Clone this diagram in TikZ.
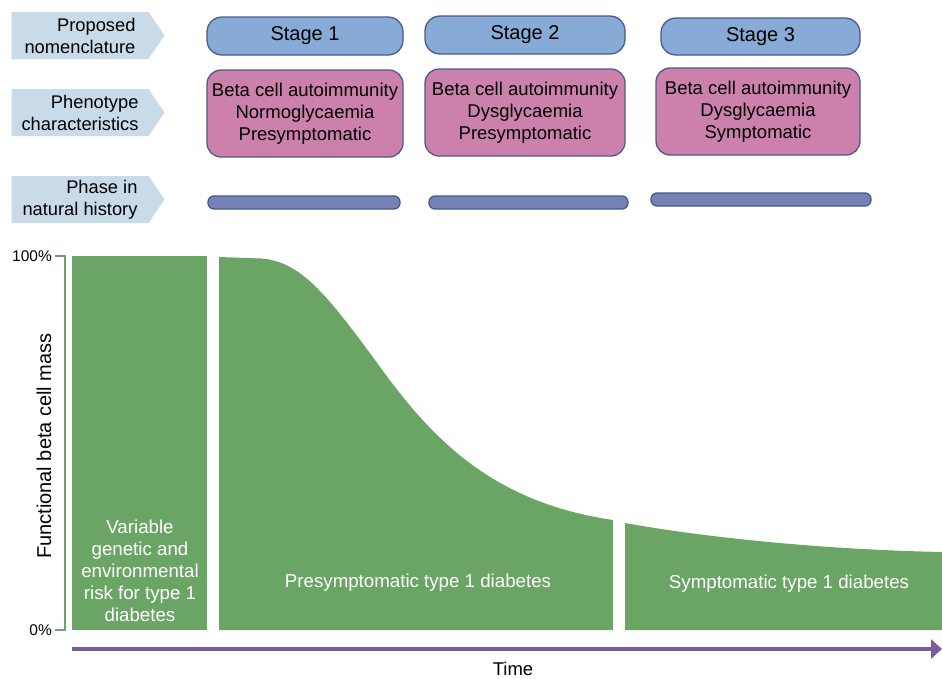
\documentclass[tikz,border=0pt]{standalone}
\usepackage{fontspec}
\setmainfont{Liberation Sans}
\usetikzlibrary{shapes.symbols}
\usetikzlibrary{arrows.meta}

\definecolor{chevblue}{HTML}{C9DAE8}
\definecolor{stageblue}{HTML}{88AAD6}
\definecolor{boxedge}{HTML}{4A5A8A}
\definecolor{phenopink}{HTML}{CC81AD}
\definecolor{phasebar}{HTML}{7482B8}
\definecolor{massgreen}{HTML}{6BA566}
\definecolor{timepurple}{HTML}{7A5C9E}

\begin{document}
\begin{tikzpicture}[
        x=1pt, y=-1pt,
        rowlabel/.style={shape=signal, signal to=east, signal pointer angle=111,
                         fill=chevblue, minimum width=153pt, minimum height=47pt,
                         inner sep=0pt, align=right, font=\fontsize{18.3}{22}\selectfont},
        stagebox/.style={draw=boxedge, line width=1.3pt, fill=stageblue,
                         rounded corners=15pt, inner sep=0pt,
                         font=\fontsize{20}{24}\selectfont},
        phenobox/.style={draw=boxedge, line width=1.3pt, fill=phenopink,
                         rounded corners=14pt, inner sep=0pt, align=center,
                         font=\fontsize{18.5}{22}\selectfont},
        phasebox/.style={draw=boxedge, line width=1.3pt, fill=phasebar,
                         rounded corners=6pt, inner sep=0pt},
        areatext/.style={text=white, align=center, font=\fontsize{18.7}{22}\selectfont},
        ticktext/.style={anchor=east, inner sep=1pt, font=\fontsize{15.5}{18}\selectfont},
    ]
    \useasboundingbox (0,0) rectangle (942,678);

    % row labels
    \node[rowlabel] (nomen) at (80,35.5) {Proposed\\nomenclature};
    \node[rowlabel] (pheno) at (80,112.5) {Phenotype\\characteristics};
    \node[rowlabel] (phase) at (80,199.5) {Phase in\\natural history};

    % stages
    \node[stagebox, minimum width=196pt, minimum height=38pt] (stage1) at (305,36) {Stage 1};
    \node[stagebox, minimum width=200pt, minimum height=38pt] (stage2) at (525,35) {Stage 2};
    \node[stagebox, minimum width=199pt, minimum height=37pt] (stage3) at (760.5,36.5) {Stage 3};

    \node[phenobox, minimum width=196pt, minimum height=87pt] (pheno1) at (305,113.5)
        {Beta cell autoimmunity\\Normoglycaemia\\Presymptomatic};
    \node[phenobox, minimum width=200pt, minimum height=87pt] (pheno2) at (525,112.5)
        {Beta cell autoimmunity\\Dysglycaemia\\Presymptomatic};
    \node[phenobox, minimum width=204pt, minimum height=87pt] (pheno3) at (758,111.5)
        {Beta cell autoimmunity\\Dysglycaemia\\Symptomatic};

    \node[phasebox, minimum width=192pt, minimum height=13pt] (phase1) at (304,202.5) {};
    \node[phasebox, minimum width=199pt, minimum height=13pt] (phase2) at (528.5,202.5) {};
    \node[phasebox, minimum width=220pt, minimum height=13pt] (phase3) at (761,199.5) {};

    % functional beta cell mass
    \fill[massgreen] (72,256) rectangle (207,630);
    \fill[massgreen] (219,630) -- (219,257) -- (262,258.5)
        .. controls (300,262) and (325,292) .. (375,360)
        .. controls (430,437) and (490,502) .. (613,520) -- (613,630) -- cycle;
    \fill[massgreen] (625,630) -- (625,523)
        .. controls (720,540) and (840,550) .. (942,552) -- (942,630) -- cycle;

    \node[areatext] (risk) at (140,571) {Variable\\genetic and\\environmental\\risk for type 1\\diabetes};
    \node[areatext] (presym) at (418,583) {Presymptomatic type 1 diabetes};
    \node[areatext] (sym) at (789,584) {Symptomatic type 1 diabetes};

    % axis
    \coordinate (top) at (65,256);
    \coordinate (bottom) at (65,630);
    \draw[massgreen, line width=1.6pt] (55,256) -- (top) -- (bottom) -- (55,630);
    \node[ticktext] (full) at (53,256) {100\%};
    \node[ticktext] (none) at (53,630) {0\%};
    \node[rotate=90, font=\fontsize{20}{24}\selectfont] (ylabel) at (44,446) {Functional beta cell mass};

    % time
    \coordinate (tstart) at (72,649);
    \coordinate (tend) at (942,649);
    \draw[timepurple, line width=4pt, -{Triangle[length=11pt,width=19pt]}] (tstart) -- (tend);
    \node[font=\fontsize{18.5}{22}\selectfont] (time) at (513,669) {Time};
\end{tikzpicture}
\end{document}
